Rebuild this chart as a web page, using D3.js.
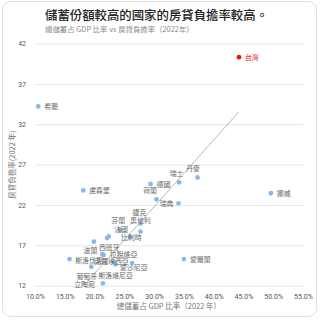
<!DOCTYPE html>
<html><head><meta charset="utf-8">
<script src="https://cdn.jsdelivr.net/npm/d3@7"></script>
<style>
html,body{margin:0;padding:0;background:#fff;}
svg{display:block;font-family:"Noto Sans CJK TC","Noto Sans",sans-serif;}
</style></head>
<body>
<svg id="c" width="320" height="320"></svg>
<script>
// ---- data ----
const countries = ["台灣","希臘","丹麥","瑞士","德國","荷蘭","瑞典","挪威","盧森堡","愛爾蘭","捷克","奧地利","芬蘭","法國","比利時","義大利","西班牙","波蘭","拉脫維亞","斯洛伐克","克羅埃西亞","斯洛維尼亞","愛沙尼亞","葡萄牙","立陶宛"];
const savingsRate = [44.25,10.55,37.3,34.2,29.4,30.4,34.1,49.6,18.1,35.0,27.7,27.7,24.3,22.4,26.0,22.1,19.9,21.3,21.5,15.8,26.3,23.2,23.5,19.45,21.4];
const mortgageBurden = [40.3,34.2,25.4,24.8,24.6,22.7,22.2,23.45,23.8,15.3,19.7,18.7,18.9,18.1,18.0,17.9,17.45,15.9,15.8,15.3,14.8,14.95,14.65,14.35,12.3];
const trendX = [18.4, 44.25];
const trendY = [12.2, 33.56];
const xTicks = [10,15,20,25,30,35,40,45,50,55];
const yTicks = [12,17,22,27,32,37,42];
const highlight = "台灣";

// ---- label placement (style config) ----
const labelPlace = {
  "台灣":["start",6,0],"希臘":["start",6,0],"丹麥":["middle",-4.5,-10],"瑞士":["middle",-2.5,-9.7],
  "德國":["start",6,0.5],"荷蘭":["end",0.5,-9],"瑞典":["end",-5,0],"挪威":["start",6,0],
  "盧森堡":["start",6,0],"愛爾蘭":["start",6,0],"捷克":["middle",-1,-11.8],"奧地利":["middle",0,-11.7],
  "芬蘭":["middle",-2,-10.2],"法國":["start",5.3,-7.5],"比利時":["middle",1,0],"義大利":null,
  "西班牙":["start",5,5],"波蘭":["end",-5,-3.8],"拉脫維亞":["start",6.3,-0.7],"斯洛伐克":["start",5.7,0.7],
  "克羅埃西亞":["end",-3.3,-2.3],"斯洛維尼亞":["middle",2,12.8],"愛沙尼亞":["start",4.7,3],
  "葡萄牙":["middle",-4.5,9.2],"立陶宛":["end",-8,1.2]
};

const svg = d3.select("#c");
const m = {l:35, r:303, t:43.5, b:285.7};

// card
svg.append("rect").attr("x",2.5).attr("y",1.5).attr("width",314).attr("height",315)
  .attr("rx",8).attr("fill","#fff").attr("stroke","#dedede").attr("stroke-width",1);

// title
svg.append("text").attr("x",45).attr("y",19.5).attr("font-size",12.4).attr("font-weight",500)
  .attr("fill","#222").text("儲蓄份額較高的國家的房貸負擔率較高。");
svg.append("text").attr("x",45).attr("y",31.5).attr("font-size",7.4)
  .attr("fill","#8a8a8a").text("總儲蓄占 GDP 比率 vs 房貸負擔率（2022年）");

const x = d3.scaleLinear().domain([10,55]).range([m.l,m.r]);
const y = d3.scaleLinear().domain([12,42]).range([m.b,m.t]);

// gridlines + y axis
const yAxis = d3.axisLeft(y).tickValues(yTicks).tickSize(-(m.r-m.l)).tickPadding(9).tickFormat(d3.format("d"));
const gy = svg.append("g").attr("transform",`translate(${m.l},0)`).call(yAxis);
gy.select(".domain").remove();
gy.selectAll(".tick line").attr("stroke","#e6e6e6").attr("stroke-width",1);
gy.selectAll(".tick text").attr("font-size",7).attr("fill","#555").attr("font-family","Roboto,'Noto Sans',sans-serif");

// x axis
const xAxis = d3.axisBottom(x).tickValues(xTicks).tickSize(0).tickPadding(8).tickFormat(d => d.toFixed(1)+"%");
const gx = svg.append("g").attr("transform",`translate(0,${m.b})`).call(xAxis);
gx.select(".domain").remove();
gx.selectAll(".tick text").attr("font-size",7).attr("fill","#555").attr("font-family","Roboto,'Noto Sans',sans-serif");

// axis titles
svg.append("text").attr("x",(m.l+m.r)/2).attr("y",309).attr("text-anchor","middle")
  .attr("font-size",7.5).attr("fill","#777").text("總儲蓄占 GDP 比率（2022 年）");
svg.append("text").attr("transform",`translate(15,${(m.t+m.b)/2}) rotate(-90)`).attr("text-anchor","middle")
  .attr("font-size",7.5).attr("fill","#777").text("房貸負擔率(2022 年)");

// trend line
svg.append("line").attr("x1",x(trendX[0])).attr("y1",y(trendY[0])).attr("x2",x(trendX[1])).attr("y2",y(trendY[1]))
  .attr("stroke","#9a9a9a").attr("stroke-width",0.7);

const pts = countries.map((c,i)=>({c, sx:savingsRate[i], my:mortgageBurden[i]}));

// dots
svg.append("g").selectAll("circle").data(pts).join("circle")
  .attr("cx",d=>x(d.sx)).attr("cy",d=>y(d.my)).attr("r",2.4)
  .attr("fill",d=>d.c===highlight?"#e8141c":"#8cb8e8");

// labels
svg.append("g").selectAll("text").data(pts.filter(d=>labelPlace[d.c])).join("text")
  .attr("x",d=>x(d.sx)+labelPlace[d.c][1]).attr("y",d=>y(d.my)+labelPlace[d.c][2])
  .attr("text-anchor",d=>labelPlace[d.c][0]).attr("dominant-baseline","central")
  .attr("font-size",6.9).attr("fill",d=>d.c===highlight?"#e8141c":"#666")
  .text(d=>d.c);
</script>
</body></html>
